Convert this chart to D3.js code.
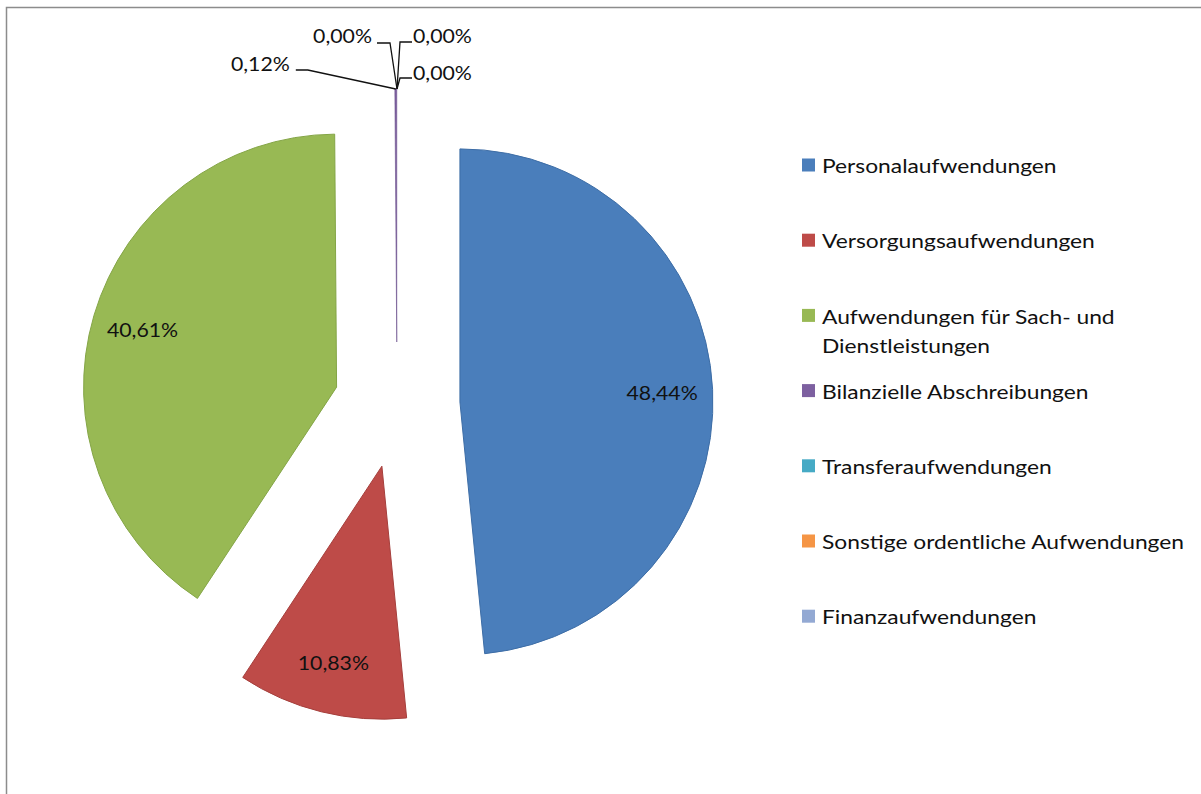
<!DOCTYPE html>
<html>
<head>
<meta charset="utf-8">
<script src="https://cdn.jsdelivr.net/npm/d3@7"></script>
<style>
  body { margin: 0; background: #fff; }
  text { font-family: Lato, "Noto Sans", sans-serif; fill: #111; }
</style>
</head>
<body>
<svg id="chart"></svg>
<script>
// data
const categories = [
  'Personalaufwendungen',
  'Versorgungsaufwendungen',
  'Aufwendungen für Sach- und Dienstleistungen',
  'Bilanzielle Abschreibungen',
  'Transferaufwendungen',
  'Sonstige ordentliche Aufwendungen',
  'Finanzaufwendungen'
];
const shares = [48.44, 10.83, 40.61, 0.12, 0.00, 0.00, 0.00];
const colors = ['#4a7ebb', '#be4b48', '#98b954', '#7d60a0', '#46aac5', '#f59545', '#93a9d3'];
const strokes = ['#3d6da6', '#a53f3c', '#84a546', '#6a4f8c', '#3993ab', '#d77d34', '#7c93bd'];

const config = {
  width: 1201,
  height: 794,
  cx: 397,
  cy: 405,
  radius: 253,
  explode: 63,
  fontSize: 19,
  legendStretch: 1.2,
  labelStretch: 1.12
};

// leader-label layout for the tiny slices (offsets from slice tip)
const smallLabelLayout = {
  3: { elbow: [-88, -19], end: [-100, -19], text: [-106, -26], anchor: 'end' },
  4: { elbow: [-7, -46], end: [-20, -46], text: [-25, -54], anchor: 'end' },
  5: { elbow: [3, -47], end: [15, -47], text: [16, -54], anchor: 'start' },
  6: { elbow: [3, -11], end: [15, -11], text: [16, -17], anchor: 'start' }
};

const locale = d3.formatLocale({ decimal: ',', thousands: '.', grouping: [3], currency: ['', '€'] });
const fmt = v => locale.format('.2f')(v) + '%';

const svg = d3.select('#chart')
  .attr('width', config.width)
  .attr('height', config.height);

svg.append('rect')
  .attr('width', config.width)
  .attr('height', config.height)
  .attr('fill', '#fff');

// chart frame (only top/left edges fall inside the picture)
svg.append('rect')
  .attr('x', 6.5)
  .attr('y', 7.5)
  .attr('width', config.width + 20)
  .attr('height', config.height + 20)
  .attr('fill', 'none')
  .attr('stroke', '#8c8c8c')
  .attr('stroke-width', 1.5);

const slices = categories.map((c, i) => ({ name: c, value: shares[i], color: colors[i], stroke: strokes[i], idx: i }));

const pie = d3.pie()
  .sort(null)
  .value(d => d.value)
  .startAngle(0)
  .endAngle(2 * Math.PI);

const arcs = pie(slices);

const arc = d3.arc()
  .innerRadius(0)
  .outerRadius(config.radius);

const offset = d => {
  const mid = (d.startAngle + d.endAngle) / 2;
  return [Math.sin(mid) * config.explode, -Math.cos(mid) * config.explode];
};

const pieG = svg.append('g')
  .attr('transform', `translate(${config.cx},${config.cy})`);

pieG.selectAll('.slice')
  .data(arcs.filter(d => d.value > 0))
  .join('path')
  .attr('class', 'slice')
  .attr('transform', d => `translate(${offset(d)})`)
  .attr('d', arc)
  .attr('fill', d => d.data.color)
  .attr('stroke', d => d.data.stroke)
  .attr('stroke-width', d => d.value < 1 ? 0.6 : 1);

// labels inside the big slices
pieG.selectAll('.inner-label')
  .data(arcs.filter(d => d.value >= 1))
  .join('text')
  .attr('class', 'inner-label')
  .attr('transform', d => {
    const mid = (d.startAngle + d.endAngle) / 2;
    const [ox, oy] = offset(d);
    const rr = config.radius * 0.8;
    return `translate(${ox + Math.sin(mid) * rr},${oy - Math.cos(mid) * rr}) scale(${config.labelStretch},1)`;
  })
  .attr('text-anchor', 'middle')
  .attr('dominant-baseline', 'central')
  .style('font-size', config.fontSize + 'px')
  .text(d => fmt(d.data.value));

// leader labels for the tiny slices
const small = arcs.filter(d => d.value < 1);
const tip = d => {
  const mid = (d.startAngle + d.endAngle) / 2;
  const [ox, oy] = offset(d);
  return [ox + Math.sin(mid) * config.radius, oy - Math.cos(mid) * config.radius];
};

pieG.selectAll('.leader')
  .data(small)
  .join('polyline')
  .attr('class', 'leader')
  .attr('points', d => {
    const t = tip(d);
    const l = smallLabelLayout[d.data.idx];
    return [t, [t[0] + l.elbow[0], t[1] + l.elbow[1]], [t[0] + l.end[0], t[1] + l.end[1]]].map(p => p.join(',')).join(' ');
  })
  .attr('fill', 'none')
  .attr('stroke', '#111')
  .attr('stroke-width', 1.3);

pieG.selectAll('.outer-label')
  .data(small)
  .join('text')
  .attr('class', 'outer-label')
  .attr('transform', d => {
    const t = tip(d);
    const l = smallLabelLayout[d.data.idx];
    return `translate(${t[0] + l.text[0]},${t[1] + l.text[1]}) scale(${config.labelStretch},1)`;
  })
  .attr('text-anchor', d => smallLabelLayout[d.data.idx].anchor)
  .attr('dominant-baseline', 'central')
  .style('font-size', config.fontSize + 'px')
  .text(d => fmt(d.data.value));

// legend
const legend = svg.append('g')
  .attr('transform', 'translate(802,165)');

const legendItems = legend.selectAll('.legend-item')
  .data(slices)
  .join('g')
  .attr('class', 'legend-item')
  .attr('transform', (d, i) => `translate(0,${i * 75.2})`);

legendItems.append('rect')
  .attr('x', 0)
  .attr('y', -6.5)
  .attr('width', 13)
  .attr('height', 13)
  .attr('fill', d => d.color);

legendItems.append('text')
  .attr('transform', `translate(20,0) scale(${config.legendStretch},1)`)
  .attr('dominant-baseline', 'central')
  .style('font-size', config.fontSize + 'px')
  .each(function (d) {
    const t = d3.select(this);
    const lines = d.name === 'Aufwendungen für Sach- und Dienstleistungen'
      ? ['Aufwendungen für Sach- und', 'Dienstleistungen']
      : [d.name];
    lines.forEach((ln, j) => {
      t.append('tspan')
        .attr('x', 0)
        .attr('dy', j === 0 ? 0 : 29)
        .text(ln);
    });
  });
</script>
</body>
</html>
